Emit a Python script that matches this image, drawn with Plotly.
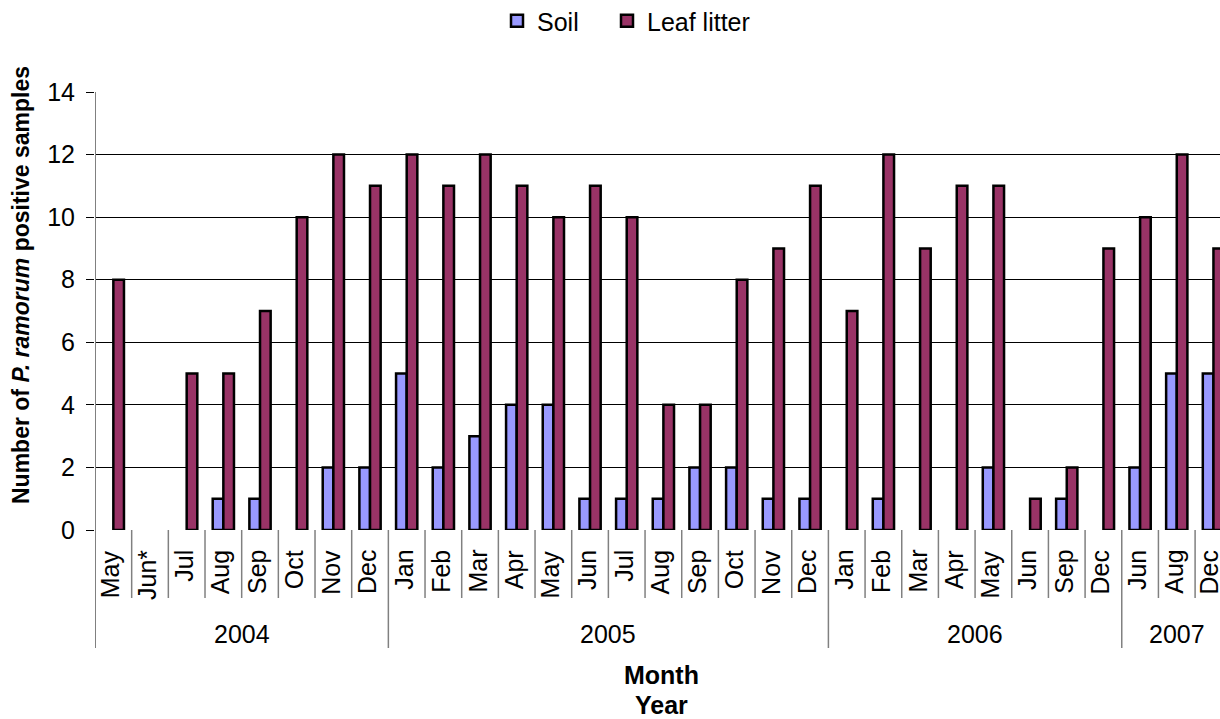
import plotly.graph_objects as go

# Sampling months grouped by year
years = ["2004", "2005", "2006", "2007"]
months_2004 = ["May", "Jun*", "Jul", "Aug", "Sep", "Oct", "Nov", "Dec"]
months_2005 = ["Jan", "Feb", "Mar", "Apr", "May", "Jun", "Jul", "Aug", "Sep", "Oct", "Nov", "Dec"]
months_2006 = ["Jan", "Feb", "Mar", "Apr", "May", "Jun", "Sep", "Dec"]
months_2007 = ["Jun", "Aug", "Dec"]
month_groups = [months_2004, months_2005, months_2006, months_2007]

# Number of P. ramorum positive samples per month
soil = [0, 0, 0, 1, 1, 0, 2, 2,
        5, 2, 3, 4, 4, 1, 1, 1, 2, 2, 1, 1,
        0, 1, 0, 0, 2, 0, 1, 0,
        2, 5, 5]
leaf_litter = [8, 0, 5, 5, 7, 10, 12, 11,
               12, 11, 12, 11, 10, 11, 10, 4, 4, 8, 9, 11,
               7, 12, 9, 11, 11, 1, 2, 9,
               10, 12, 9]

y_ticks = [0, 2, 4, 6, 8, 10, 12, 14]

month_labels = [m for grp in month_groups for m in grp]
xpos = list(range(len(month_labels)))

FONT = "Liberation Sans, Arial, sans-serif"
FS = 25
GRAY = "#808080"
PLOT_TOP, PLOT_BOTTOM, PLOT_LEFT = 92, 530, 95
PLOT_H = PLOT_BOTTOM - PLOT_TOP
CAT_W = 36.67


def py(pixel_y):
    """Page pixel row -> paper y coordinate."""
    return (PLOT_BOTTOM - pixel_y) / PLOT_H


def px(pixel_x):
    """Page pixel column -> paper x coordinate."""
    return (pixel_x - PLOT_LEFT) / (1220 - PLOT_LEFT)


def hide_zero(values):
    # zero-count months get no bar (and no outline stub)
    return [v if v else None for v in values]


fig = go.Figure()
fig.add_trace(go.Bar(
    x=xpos, y=hide_zero(soil), name="Soil", legend="legend",
    marker=dict(color="#9999FF", line=dict(color="black", width=2.5)),
))
fig.add_trace(go.Bar(
    x=xpos, y=hide_zero(leaf_litter), name="Leaf litter", legend="legend2",
    marker=dict(color="#993366", line=dict(color="black", width=2.5)),
))

# Plot area is wider than the page: last group is cut at the right edge
n = len(month_labels)
x_end = -0.5 + (1220 - PLOT_LEFT) / CAT_W

shapes = []
# y axis line, running down through the label rows
shapes.append(dict(type="line", xref="x", yref="paper", x0=-0.5, x1=-0.5,
                   y0=py(648), y1=1, line=dict(color=GRAY, width=2)))
# month separators and (longer) year separators
boundaries = []
acc = 0
for grp in month_groups:
    acc += len(grp)
    boundaries.append(acc)
for i in range(1, n + 1):
    bx = i - 0.5
    low = py(648) if i in boundaries else py(598)
    shapes.append(dict(type="line", xref="x", yref="paper", x0=bx, x1=bx,
                       y0=low, y1=0, line=dict(color=GRAY, width=1.5)))

annotations = []
# rotated month labels
for i, m in enumerate(month_labels):
    shift = -4 if i == n - 1 else -3
    annotations.append(dict(x=i, y=py(548), xref="x", yref="paper",
                            text=m, showarrow=False, textangle=-90, xshift=shift,
                            font=dict(family=FONT, size=FS, color="black"),
                            xanchor="center", yanchor="top"))
# year labels centred under their months
start = 0
for yr, grp in zip(years, month_groups):
    center = start + (len(grp) - 1) / 2
    annotations.append(dict(x=center, y=py(634), xref="x", yref="paper",
                            text=yr, showarrow=False,
                            font=dict(family=FONT, size=FS, color="black"),
                            xanchor="center", yanchor="middle"))
    start += len(grp)

annotations.append(dict(x=px(661), y=py(675), xref="paper", yref="paper",
                        text="<b>Month</b>", showarrow=False,
                        font=dict(family=FONT, size=FS, color="black"),
                        xanchor="center", yanchor="middle"))
annotations.append(dict(x=px(661), y=py(705), xref="paper", yref="paper",
                        text="<b>Year</b>", showarrow=False,
                        font=dict(family=FONT, size=FS, color="black"),
                        xanchor="center", yanchor="middle"))
annotations.append(dict(x=px(21), y=py(285), xref="paper", yref="paper",
                        text="<b>Number of <i>P. ramorum</i> positive samples</b>",
                        showarrow=False, textangle=-90,
                        font=dict(family=FONT, size=23, color="black"),
                        xanchor="center", yanchor="middle"))

legend_style = dict(orientation="h", xanchor="left", yanchor="middle",
                    y=py(21), font=dict(family=FONT, size=FS, color="black"),
                    bgcolor="rgba(0,0,0,0)")

fig.update_layout(
    width=1220, height=719,
    margin=dict(l=PLOT_LEFT, r=0, t=PLOT_TOP, b=719 - PLOT_BOTTOM,
                autoexpand=False),
    plot_bgcolor="white", paper_bgcolor="white",
    barmode="group", bargap=0.42, bargroupgap=0,
    font=dict(family=FONT, size=FS, color="black"),
    showlegend=True,
    legend=dict(x=px(497), **legend_style),
    legend2=dict(x=px(607), **legend_style),
    shapes=shapes,
    annotations=annotations,
    xaxis=dict(range=[-0.5, x_end], showticklabels=False, showgrid=False,
               zeroline=False, showline=False, ticks=""),
    yaxis=dict(range=[0, 14], tickmode="array", tickvals=y_ticks,
               showgrid=True, gridcolor="black", gridwidth=1.2,
               zeroline=False, showline=False,
               ticks="outside", ticklen=8, tickcolor="black", tickwidth=1.2,
               ticklabelstandoff=6,
               tickfont=dict(family=FONT, size=FS, color="black")),
)

fig.write_html("out.html")
